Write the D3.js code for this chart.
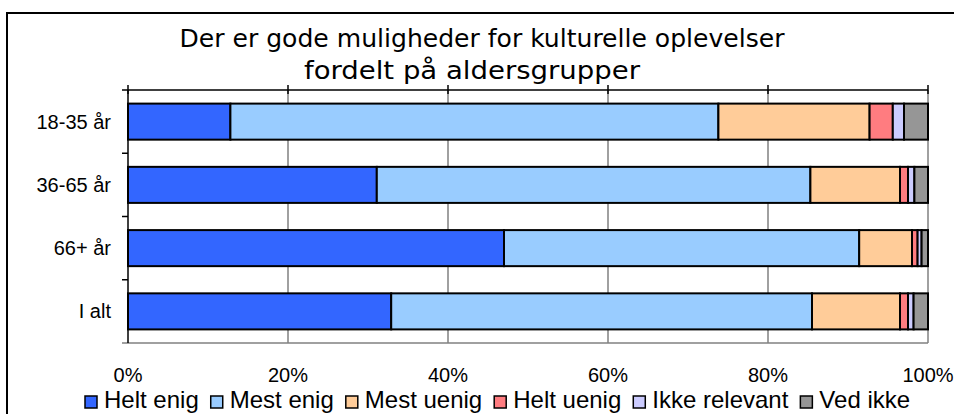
<!DOCTYPE html>
<meta charset="utf-8">
<style>
body { margin: 0; background: #fff; overflow: hidden; }
svg { display: block; }
text { font-family: "Liberation Sans", Arial, sans-serif; fill: #000; }
.title { font-family: "DejaVu Sans Condensed", "DejaVu Sans", sans-serif; font-size: 25px; }
.bar rect { stroke: #000; stroke-width: 2px; }
</style>
<body>
<script src="https://d3js.org/d3.v7.min.js"></script>
<script>

// data (percent of answers)
var categories = ["18-35 år", "36-65 år", "66+ år", "I alt"];
var seriesNames = ["Helt enig", "Mest enig", "Mest uenig", "Helt uenig", "Ikke relevant", "Ved ikke"];
var heltEnig     = [12.8, 31.1, 47.0, 32.9];
var mestEnig     = [61.0, 54.2, 44.4, 52.6];
var mestUenig    = [18.9, 11.2, 6.6, 11.0];
var heltUenig    = [2.9, 1.0, 0.7, 1.0];
var ikkeRelevant = [1.4, 0.8, 0.5, 0.7];
var vedIkke      = [3.0, 1.7, 0.8, 1.8];
var xTicks = [0, 20, 40, 60, 80, 100];
var colors = ["#3366FF", "#99CCFF", "#FFCC99", "#FF7C80", "#CCCCFF", "#969696"];

var allSeries = [heltEnig, mestEnig, mestUenig, heltUenig, ikkeRelevant, vedIkke];

// rows for d3.stack
var rows = categories.map(function(c, i) {
  var r = {cat: c};
  seriesNames.forEach(function(s, j) { r[s] = allSeries[j][i]; });
  return r;
});

var W = 954, H = 414;
var plot = {left: 128, right: 928, top: 90, bottom: 343};

var svg = d3.select("body").append("svg")
    .attr("width", W)
    .attr("height", H);

// outer chart frame (right and bottom edges fall outside the picture)
svg.append("rect")
    .attr("x", 7).attr("y", 13)
    .attr("width", W + 20).attr("height", H + 20)
    .attr("fill", "#fff")
    .attr("stroke", "#000")
    .attr("stroke-width", 2);

// title
var title = svg.append("text").attr("class", "title").attr("text-anchor", "middle");
title.append("tspan").attr("x", 482).attr("y", 47)
    .attr("textLength", 605).attr("lengthAdjust", "spacingAndGlyphs")
    .text("Der er gode muligheder for kulturelle oplevelser");
title.append("tspan").attr("x", 472).attr("y", 79)
    .attr("textLength", 336).attr("lengthAdjust", "spacingAndGlyphs")
    .text("fordelt på aldersgrupper");

// scales
var x = d3.scaleLinear().domain([0, 100]).range([plot.left, plot.right]);
var y = d3.scaleBand().domain(categories)
    .range([plot.top, plot.bottom])
    .paddingInner(0.43).paddingOuter(0.215);

// vertical gridlines
svg.append("g")
  .selectAll("line")
  .data(xTicks.slice(1))
  .join("line")
    .attr("x1", function(d) { return x(d); })
    .attr("x2", function(d) { return x(d); })
    .attr("y1", plot.top)
    .attr("y2", plot.bottom)
    .attr("stroke", "#808080")
    .attr("stroke-width", 1.5);

// bottom border of the plot area
svg.append("line")
    .attr("x1", plot.left - 6).attr("x2", plot.right)
    .attr("y1", plot.bottom).attr("y2", plot.bottom)
    .attr("stroke", "#808080").attr("stroke-width", 1.5);

// stacked bars
var stack = d3.stack().keys(seriesNames)(rows);

svg.append("g")
  .selectAll("g")
  .data(stack)
  .join("g")
    .attr("class", "bar")
    .attr("fill", function(d, i) { return colors[i]; })
  .selectAll("rect")
  .data(function(d) { return d; })
  .join("rect")
    .attr("x", function(d) { return x(d[0]); })
    .attr("width", function(d) { return x(d[1]) - x(d[0]); })
    .attr("y", function(d) { return y(d.data.cat); })
    .attr("height", y.bandwidth());

// top axis: black line with crossing ticks
var topAxis = svg.append("g").attr("transform", "translate(0," + plot.top + ")");
topAxis.append("line")
    .attr("x1", plot.left).attr("x2", plot.right)
    .attr("stroke", "#000").attr("stroke-width", 1.5);
topAxis.selectAll(".tk")
  .data(xTicks)
  .join("line")
    .attr("class", "tk")
    .attr("x1", function(d) { return x(d); })
    .attr("x2", function(d) { return x(d); })
    .attr("y1", -5).attr("y2", 4)
    .attr("stroke", "#000").attr("stroke-width", 1.5);

// x labels at the bottom
svg.append("g")
  .selectAll("text")
  .data(xTicks)
  .join("text")
    .attr("x", function(d) { return x(d); })
    .attr("y", 382)
    .attr("text-anchor", "middle")
    .style("font-size", "20px")
    .text(function(d) { return d + "%"; });

// left axis
var leftAxis = svg.append("g");
leftAxis.append("line")
    .attr("x1", plot.left).attr("x2", plot.left)
    .attr("y1", plot.top).attr("y2", plot.bottom)
    .attr("stroke", "#000").attr("stroke-width", 1.5);
var bounds = categories.map(function(c) { return y(c) - y.step() * y.paddingInner() / 2; });
leftAxis.selectAll(".tk")
  .data(bounds)
  .join("line")
    .attr("class", "tk")
    .attr("x1", plot.left - 6).attr("x2", plot.left)
    .attr("y1", function(d) { return d; })
    .attr("y2", function(d) { return d; })
    .attr("stroke", "#000").attr("stroke-width", 1.5);
leftAxis.selectAll("text")
  .data(categories)
  .join("text")
    .attr("x", 111)
    .attr("y", function(d) { return y(d) + y.bandwidth() / 2 + 7; })
    .attr("text-anchor", "end")
    .style("font-size", "20px")
    .text(function(d) { return d; });

// legend
var legend = svg.append("g").attr("transform", "translate(85,408)");
var lx = 0;
seriesNames.forEach(function(s, i) {
  var g = legend.append("g").attr("transform", "translate(" + lx + ",0)");
  g.append("rect")
      .attr("x", 0).attr("y", -12)
      .attr("width", 12).attr("height", 12)
      .attr("fill", colors[i])
      .attr("stroke", "#000").attr("stroke-width", 1.5);
  var t = g.append("text")
      .attr("x", 19).attr("y", 0)
      .style("font-size", "24px")
      .text(s);
  lx += 19 + t.node().getComputedTextLength() + 12;
});

</script>
</body>
